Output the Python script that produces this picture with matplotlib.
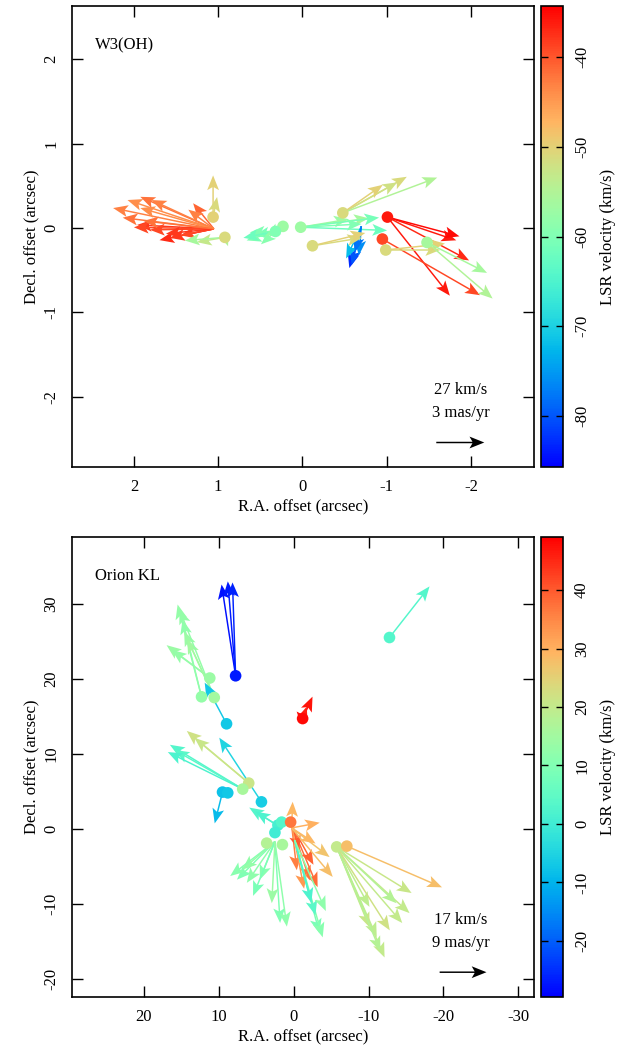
import numpy as np
import matplotlib
matplotlib.use('Agg')
import matplotlib.pyplot as plt
from matplotlib import colors, cm

plt.rcParams['font.family'] = 'serif'
plt.rcParams['font.serif'] = ['Liberation Serif', 'DejaVu Serif']
plt.rcParams['axes.unicode_minus'] = False

# ---------------- W3(OH) ----------------
# maser spots: RA offset, Dec offset (arcsec), LSR velocity (km/s)
w3_spot_x = [1.06, 0.92, 0.23, 0.32, 0.02, -0.48, -0.12, -1.01, -0.95, -0.99, -1.48]
w3_spot_y = [0.13, -0.11, 0.02, -0.04, 0.01, 0.18, -0.21, 0.13, -0.13, -0.26, -0.17]
w3_spot_v = [-50, -51, -57, -60, -57, -51, -51, -36, -39, -51, -56]

# proper motions: start (arcsec), mu_x, mu_y (mas/yr), LSR velocity
w3_vec_x0 = [1.05] * 16 + [1.06] * 2 + [0.92] * 3 + [0.32] * 5 + [0.23] + [0.02] * 5 \
    + [-0.48] * 4 + [-0.70] * 5 + [-0.12] * 2 + [-1.01] * 4 + [-0.95] + [-0.99] * 2 + [-1.48] * 2
w3_vec_y0 = [-0.01] * 16 + [0.13] * 2 + [-0.11] * 3 + [-0.04] * 5 + [0.02] + [0.01] * 5 \
    + [0.18] * 4 + [0.02] * 5 + [-0.21] * 2 + [0.13] * 4 + [-0.13] + [-0.26] * 2 + [-0.17] * 2
w3_vec_u = [6.3, 5.4, 4.6, 3.9, 5.7, 4.6, 4.8, 4.0, 3.4, 2.75, 2.1, 1.3, 5.0, 3.0, 4.4, 1.6,
            0.0, -0.25,
            1.75, 2.5, -0.2,
            1.8, 1.3, 0.9, 1.6, 2.0,
            1.1,
            -3.0, -4.25, -5.4, -4.9, -3.8,
            -4.0, -3.4, -2.5, -5.9,
            0.75, 0.6, 0.15, 0.95, 0.4,
            -3.1, -3.3,
            -4.3, -5.1, -3.9, -4.5,
            -6.1,
            -3.4, -3.7,
            -3.75, -4.1]
w3_vec_v = [1.3, 1.8, 2.0, 1.8, 0.7, 1.3, 0.25, -0.06, -0.7, -0.56, -0.4, 1.6, 0.1, -0.3, 0.5, 1.2,
            2.6, 1.25,
            -0.3, -0.2, -0.55,
            -0.56, -0.25, -0.8, -0.06, -0.4,
            -0.6,
            0.5, 0.56, -0.2, 0.6, 0.2,
            2.25, 1.9, 1.75, 2.2,
            -2.6, -2.4, -1.8, -2.0, -1.6,
            0.5, 0.8,
            -1.45, -2.7, -4.9, -1.2,
            -3.5,
            0.0, 0.4,
            -1.9, -3.5]
w3_vec_vel = [-43, -44, -42, -43, -42, -44, -38, -39, -37, -38, -39, -41, -39, -38, -42, -43,
              -50, -51,
              -53, -56, -55,
              -60, -61, -59, -60, -62,
              -58,
              -57, -56, -62, -61, -60,
              -51, -52, -50, -55,
              -83, -80, -76, -72, -78,
              -51, -50,
              -36, -37, -36, -35,
              -39,
              -51, -50,
              -56, -55]

# ---------------- Orion KL ----------------
ori_spot_x = [7.75, -1.2, -12.8, 11.2, 12.3, 10.6, 8.96, 6.0, 6.8, 4.3, 9.5, 8.8,
              2.1, 2.5, 1.6, 0.4, 3.6, 1.5, -5.75, -7.1]
ori_spot_y = [20.4, 14.7, 25.5, 20.1, 17.6, 17.5, 14.0, 6.1, 5.3, 3.6, 4.9, 4.8,
              0.5, -0.5, 0.9, 0.9, -1.9, -2.1, -2.4, -2.3]
ori_spot_v = [-27, 48, 3, 14, 13, 15, -7, 21, 16, -6, -8, -7,
              1, 0, 3, 37, 18, 16, 20, 28]

ori_vec_x0 = [7.75] * 3 + [-1.2] * 3 + [-12.8] + [12.3] * 2 + [11.2] * 2 + [10.6] * 3 + [8.96] \
    + [6.8] * 3 + [6.0] * 2 + [4.3] + [9.5] + [1.9] * 2 + [0.27] * 6 + [0.27] * 5 \
    + [2.5] * 9 + [-0.13] * 5 + [-5.75] * 10 + [-7.1]
ori_vec_y0 = [20.4] * 3 + [14.7] * 3 + [25.5] + [17.6] * 2 + [20.1] * 2 + [17.5] * 3 + [14.0] \
    + [5.3] * 3 + [6.1] * 2 + [3.6] + [4.9] + [0.3] * 2 + [0.5] * 6 + [0.13] * 5 \
    + [-1.7] * 9 + [-1.5] * 5 + [-2.4] * 10 + [-2.3]
ori_vec_u = [2.7, 1.5, 0.6,
             1.15, -1.9, -0.8,
             -7.7,
             4.6, 3.65,
             8.3, 7.3,
             5.8, 5.2, 6.7,
             4.2,
             14.0, 13.1, 14.4,
             11.9, 10.4,
             8.1,
             1.5,
             5.8, 4.6,
             -5.0, -1.0, -3.5, -1.5, -4.2, -2.4,
             -0.2, -5.4, -7.9, -7.3, -4.6,
             7.3, 5.4, 2.9, -1.0, -2.3, 6.3, 8.6, 4.2, 0.6,
             -4.8, -5.4, -4.0, -3.2, -6.0,
             -9.2, -7.7, -6.3, -14.0, -11.5, -14.4, -6.3, -12.6, -10.2, -8.4,
             -18.3]
ori_vec_v = [17.5, 18.1, 17.9,
             1.35, 4.2, 2.3,
             9.8,
             17.7, 14.8,
             6.3, 5.4,
             12.7, 11.2, 16.9,
             7.9,
             8.5, 7.5, 7.1,
             10.0, 8.65,
             12.3,
             -6.0,
             3.65, 2.9,
             -11.9, -8.65, -10.6, -4.8, -7.6, -12.2,
             5.0, 1.0, -9.4, -5.6, -3.0,
             -7.3, -7.9, -7.3, -15.6, -16.3, -5.4, -6.6, -10.4, -11.8,
             -17.9, -18.65, -14.4, -12.0, -13.6,
             -21.2, -17.3, -15.4, -12.7, -10.8, -8.85, -11.5, -14.6, -16.0, -20.0,
             -7.9]
ori_vec_vel = [-28, -27, -26,
               48, 47, 46,
               3,
               13, 12,
               14, 13,
               14, 15, 13,
               -7,
               3, 4, 2,
               22, 21,
               -5,
               -9,
               3, 2,
               38, 36, 37, 40, 39, 33,
               29, 30, 28, 27, 29,
               10, 12, 11, 10, 12, 13, 11, 9, 14,
               9, 11, 4, 2, 12,
               20, 19, 21, 20, 18, 21, 19, 20, 22, 18,
               28]

# blue -> cyan -> mint -> tan -> red palette of the colour bar
_x = np.linspace(0, 1, 256)
_rgb = np.column_stack([np.clip(2 * _x - 0.5, 0, 1), np.sin(np.pi * _x), np.cos(np.pi * _x / 2)])
palette = colors.ListedColormap(_rgb)


def draw_panel(ax, cax, spx, spy, spv, vx, vy, vu, vv, vvel, vrange, arcsec_per_pm,
               xlim, ylim, xticks, yticks, cticks, name, ref_kms, ref_pm, ref_xy):
    norm = colors.Normalize(vmin=vrange[0], vmax=vrange[1])
    cmap = palette
    qk = dict(angles='xy', scale_units='xy', scale=1.0 / arcsec_per_pm,
              width=0.0032, headwidth=8, headlength=10, headaxislength=8)
    ax.quiver(vx, vy, vu, vv, vvel, cmap=cmap, norm=norm, zorder=2, **qk)
    ax.scatter(spx, spy, c=spv, cmap=cmap, norm=norm, s=70, linewidths=0, zorder=3)
    # reference arrow
    ax.quiver([ref_xy[0]], [ref_xy[1]], [-ref_pm], [0], color='k', zorder=4, **qk)
    ax.text(0.842, 0.167, '%d km/s' % ref_kms, transform=ax.transAxes, ha='center',
            va='center', fontsize=12)
    ax.text(0.842, 0.117, '%d mas/yr' % ref_pm, transform=ax.transAxes, ha='center',
            va='center', fontsize=12)
    ax.text(0.05, 0.915, name, transform=ax.transAxes, ha='left', va='center', fontsize=12)

    ax.set_xlim(*xlim)
    ax.set_ylim(*ylim)
    ax.set_xticks(xticks)
    ax.set_yticks(yticks)
    ax.tick_params(direction='in', top=True, right=True, length=8, width=1, labelsize=12)
    ax.tick_params(axis='x', pad=9)
    ax.tick_params(axis='y', pad=9, labelrotation=90)
    plt.setp(ax.get_yticklabels(), va='center')
    ax.set_xlabel('R.A. offset (arcsec)', fontsize=12, labelpad=3)
    ax.set_ylabel('Decl. offset (arcsec)', fontsize=12, labelpad=3)
    for s in ax.spines.values():
        s.set_linewidth(1.2)

    sm = cm.ScalarMappable(norm=norm, cmap=cmap)
    cb = plt.colorbar(sm, cax=cax, ticks=cticks)
    cb.outline.set_linewidth(1.2)
    cax.tick_params(direction='in', left=True, right=True, length=5, width=1,
                    labelsize=12, pad=8)
    plt.setp(cax.get_yticklabels(), rotation=90, va='center')
    cb.set_label('LSR velocity (km/s)', fontsize=12, labelpad=7)


fig = plt.figure(figsize=(6.3, 10.57), dpi=100)
ax1 = fig.add_axes([0.1143, 0.5582, 0.7333, 0.4361])
cax1 = fig.add_axes([0.8587, 0.5582, 0.0349, 0.4361])
ax2 = fig.add_axes([0.1143, 0.0568, 0.7333, 0.4352])
cax2 = fig.add_axes([0.8587, 0.0568, 0.0349, 0.4352])

draw_panel(ax1, cax1, w3_spot_x, w3_spot_y, w3_spot_v,
           w3_vec_x0, w3_vec_y0, w3_vec_u, w3_vec_v, w3_vec_vel,
           (-85.7, -34.3), 0.19, (2.735, -2.75), (-2.83, 2.63),
           [2, 1, 0, -1, -2], [-2, -1, 0, 1, 2], [-80, -70, -60, -50, -40],
           'W3(OH)', 27, 3, (-1.59, -2.54))

draw_panel(ax2, cax2, ori_spot_x, ori_spot_y, ori_spot_v,
           ori_vec_x0, ori_vec_y0, ori_vec_u, ori_vec_v, ori_vec_vel,
           (-29.6, 49.1), 0.695, (29.6, -32.1), (-22.4, 38.9),
           [20, 10, 0, -10, -20, -30], [-20, -10, 0, 10, 20, 30],
           [-20, -10, 0, 10, 20, 30, 40],
           'Orion KL', 17, 9, (-19.5, -19.1))

fig.savefig('out.png', dpi=100)
